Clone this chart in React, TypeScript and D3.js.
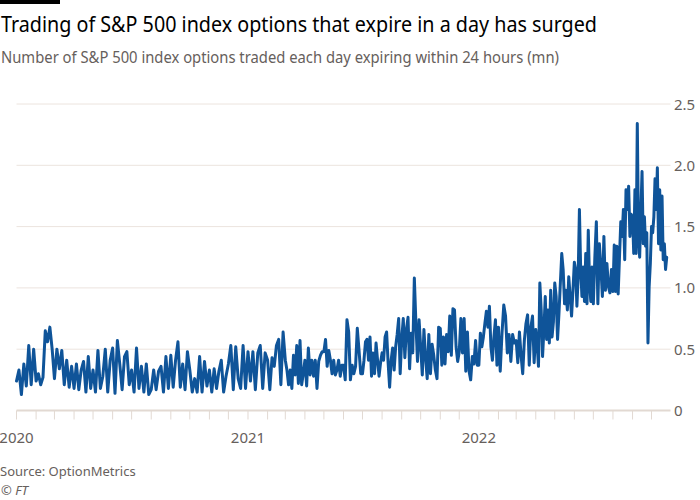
import React from "react";
import * as d3 from "d3";

const titleText = "Trading of S&P 500 index options that expire in a day has surged";
const subtitleText = "Number of S&P 500 index options traded each day expiring within 24 hours (mn)";
const sourceText = "Source: OptionMetrics";
const creditText = "© FT";

const firstMonth = "2020-01-01";
const lastDate = "2022-10-25";
const domainEnd = "2022-10-31";
const yTicks = [0, 0.5, 1, 1.5, 2, 2.5];
const yearTicks = ["2020-01-01", "2021-01-01", "2022-01-01"];

// Daily volume (mn), grouped by month
const v2020: number[][] = [
  [0.24, 0.33, 0.13, 0.38, 0.2, 0.53, 0.21, 0.5],
  [0.24, 0.3, 0.21, 0.27, 0.65, 0.56, 0.68, 0.5],
  [0.26, 0.5, 0.34, 0.49, 0.21, 0.41, 0.19, 0.36],
  [0.18, 0.38, 0.17, 0.33, 0.4, 0.15, 0.44, 0.18],
  [0.33, 0.15, 0.49, 0.18, 0.28, 0.5, 0.15, 0.41],
  [0.51, 0.14, 0.57, 0.38, 0.17, 0.44, 0.48, 0.21],
  [0.33, 0.15, 0.51, 0.18, 0.36, 0.15, 0.38, 0.13],
  [0.17, 0.33, 0.17, 0.32, 0.36, 0.15, 0.44, 0.18],
  [0.45, 0.19, 0.41, 0.56, 0.19, 0.38, 0.17, 0.48],
  [0.33, 0.15, 0.26, 0.15, 0.44, 0.15, 0.4, 0.2],
  [0.33, 0.15, 0.34, 0.18, 0.32, 0.41, 0.15, 0.28],
  [0.38, 0.53, 0.17, 0.52, 0.26, 0.18, 0.53, 0.18],
];

const v2021: number[][] = [
  [0.48, 0.24, 0.48, 0.17, 0.47, 0.53, 0.18, 0.47],
  [0.41, 0.17, 0.43, 0.36, 0.53, 0.58, 0.21, 0.64],
  [0.41, 0.33, 0.21, 0.33, 0.18, 0.45, 0.29, 0.53, 0.22, 0.57, 0.21, 0.3],
  [0.41, 0.2, 0.51, 0.29, 0.41, 0.28, 0.41, 0.18, 0.4, 0.45, 0.48],
  [0.48, 0.58, 0.36, 0.49, 0.41, 0.3, 0.41, 0.29, 0.33, 0.41, 0.28, 0.37],
  [0.37, 0.25, 0.74, 0.64, 0.25, 0.37, 0.3, 0.36, 0.67, 0.49, 0.3],
  [0.3, 0.41, 0.56, 0.58, 0.41, 0.6, 0.28, 0.47, 0.3, 0.55, 0.41, 0.28, 0.39],
  [0.47, 0.41, 0.6, 0.64, 0.39, 0.19, 0.41, 0.51, 0.33, 0.52, 0.62, 0.75, 0.3],
  [0.58, 0.75, 0.43, 0.66, 0.76, 0.34, 0.63, 0.47, 1.08, 0.71, 0.4, 0.74],
  [0.52, 0.29, 0.66, 0.43, 0.26, 0.62, 0.3, 0.54, 0.45, 0.33, 0.26, 0.68],
  [0.67, 0.37, 0.6, 0.38, 0.62, 0.48, 0.77, 0.45, 0.83, 0.82, 0.52, 0.4],
  [0.48, 0.75, 0.47, 0.75, 0.32, 0.64, 0.32, 0.25, 0.44, 0.38, 0.57, 0.37],
];

const v2022: number[][] = [
  [0.37, 0.63, 0.52, 0.6, 0.71, 0.81, 0.68, 0.85, 0.52, 0.41, 0.6, 0.74, 0.37],
  [0.68, 0.32, 0.63, 0.86, 0.77, 0.47, 0.62, 0.4, 0.62, 0.55],
  [0.57, 0.39, 0.64, 0.45, 0.3, 0.57, 0.71, 0.78, 0.37, 0.68, 0.77, 0.39],
  [0.66, 0.55, 0.36, 1.04, 0.82, 0.44, 0.66, 0.93, 0.58, 0.82, 0.55, 0.98, 0.6, 0.72],
  [1.04, 0.93, 0.58, 0.79, 1.04, 1.28, 1.15, 0.87, 0.98, 0.82, 1.09, 0.93, 0.77, 0.98],
  [1.21, 1.15, 0.85, 1.09, 1.64, 1.15, 0.93, 1.17, 0.89, 1.28, 0.87, 1.47, 1.04, 0.89, 1.17],
  [0.87, 1.25, 1.54, 0.87, 1.36, 1.17, 0.93, 1.42, 0.98, 1.2, 1.01, 0.96, 1.15],
  [0.97, 1.35, 0.97, 1.34, 0.95, 1.25, 1.54, 1.42, 1.64, 1.23, 1.8, 1.64, 1.83, 1.42, 1.6],
  [1.58, 1.28, 1.8, 1.28, 2.34, 1.45, 1.25, 1.61, 1.95, 1.36, 1.58, 1.34, 1.45, 0.55, 1.01, 1.2],
  [1.5, 1.45, 1.58, 1.89, 1.64, 1.98, 1.36, 1.8, 1.31, 1.75, 1.23, 1.36, 1.15, 1.25],
];

const FONT = "'Noto Sans', 'Open Sans', sans-serif";
const LINE = "#0f5499";
const GRID = "#ece4de";
const TICK = "#e2d9d2";
const LABEL = "#66605c";

export default function App() {
  const parse = d3.timeParse("%Y-%m-%d");
  const start = parse(firstMonth) as Date;
  const end = parse(lastDate) as Date;

  const months = [...v2020, ...v2021, ...v2022];
  const points: { date: Date; value: number }[] = [];
  months.forEach((arr, i) => {
    const m0 = d3.timeMonth.offset(start, i);
    const isLast = i === months.length - 1;
    const m1 = isLast ? end : d3.timeMonth.offset(start, i + 1);
    const n = arr.length;
    arr.forEach((v, k) => {
      const t = isLast ? k / (n - 1) : k / n;
      points.push({ date: new Date(+m0 + t * (+m1 - +m0)), value: v });
    });
  });

  const left = 16.5;
  const right = 670.5;
  const x = d3
    .scaleTime()
    .domain([start, parse(domainEnd) as Date])
    .range([left, right]);
  const y = d3.scaleLinear().domain([0, 2.5]).range([410.5, 104]);

  const line = d3
    .line<{ date: Date; value: number }>()
    .x((d) => x(d.date))
    .y((d) => y(d.value));

  const monthTicks = d3.timeMonth.range(start, d3.timeMonth.offset(start, months.length));
  const fmt = (v: number) => (v === 0 ? "0" : d3.format(".1f")(v));

  return (
    <svg
      width={700}
      height={500}
      style={{ position: "absolute", left: 0, top: 0, background: "#ffffff" }}
      fontFamily={FONT}
    >
      <rect x={0} y={0} width={60} height={4} fill="#000" />
      <text x={1} y={32} fontSize={21.5} fill="#000" textLength={596} lengthAdjust="spacingAndGlyphs">
        {titleText}
      </text>
      <text x={1} y={63} fontSize={15.5} fill={LABEL} textLength={558} lengthAdjust="spacingAndGlyphs">
        {subtitleText}
      </text>

      {yTicks.map((t) => (
        <g key={t}>
          {t !== 0 && (
            <line x1={left} x2={right} y1={y(t)} y2={y(t)} stroke={GRID} strokeWidth={1} />
          )}
          <text x={674} y={y(t) + 5.5} fontSize={15} fill={LABEL}>
            {fmt(t)}
          </text>
        </g>
      ))}

      {monthTicks.map((d, i) => (
        <line
          key={i}
          x1={x(d)}
          x2={x(d)}
          y1={y(0)}
          y2={y(0) + 9}
          stroke={TICK}
          strokeWidth={1}
        />
      ))}
      <line x1={left} x2={right} y1={y(0)} y2={y(0)} stroke={TICK} strokeWidth={2} />

      {yearTicks.map((s) => {
        const d = parse(s) as Date;
        return (
          <text key={s} x={x(d)} y={443} fontSize={15} fill={LABEL} textAnchor="middle">
            {d3.timeFormat("%Y")(d)}
          </text>
        );
      })}

      <path
        d={line(points) || ""}
        fill="none"
        stroke={LINE}
        strokeWidth={3}
        strokeLinejoin="round"
        strokeLinecap="round"
      />

      <text x={0} y={476} fontSize={13} fill={LABEL}>
        {sourceText}
      </text>
      <text x={1} y={494.5} fontSize={13} fill={LABEL} fontStyle="italic">
        {creditText}
      </text>
    </svg>
  );
}
